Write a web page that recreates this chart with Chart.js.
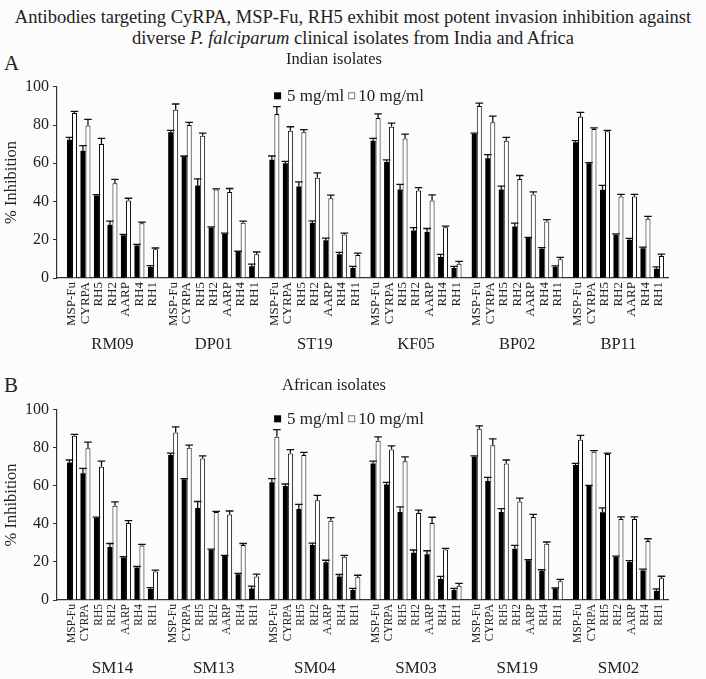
<!DOCTYPE html>
<html>
<head>
<meta charset="utf-8">
<script src="https://cdn.jsdelivr.net/npm/chart.js@4"></script>
<style>
  body { margin: 0; background: #fcfcfc; font-family: "Liberation Serif", serif; color: #222; }
  #page { position: relative; width: 706px; height: 679px; overflow: hidden; }
  .title { position: absolute; left: 0; width: 706px; text-align: center; font-size: 18.5px; line-height: 21px; }
  .panel-letter { position: absolute; left: 4px; font-size: 21px; }
  canvas { position: absolute; left: 0; }
</style>
</head>
<body>
<div id="page">
  <div class="title" style="top: 7px;">Antibodies targeting CyRPA, MSP-Fu, RH5 exhibit most potent invasion inhibition against<br>diverse <i>P. falciparum</i> clinical isolates from India and Africa</div>
  <div class="panel-letter" style="top: 51px;">A</div>
  <div class="panel-letter" style="top: 373px;">B</div>
  <canvas id="chartA" width="706" height="312" style="top: 50px;"></canvas>
  <canvas id="chartB" width="706" height="306" style="top: 373px;"></canvas>
</div>
<script>
const antigens = ["MSP-Fu", "CYRPA", "RH5", "RH2", "AARP", "RH4", "RH1"];
const indianIsolates = ["RM09", "DP01", "ST19", "KF05", "BP02", "BP11"];
const africanIsolates = ["SM14", "SM13", "SM04", "SM03", "SM19", "SM02"];

// % inhibition per isolate (rows) and antigen (columns)
const inhibition5 = [
  [72.3, 66.6, 43.1, 27.8, 22.3, 17.0, 5.8],
  [76.2, 63.5, 48.4, 26.4, 23.1, 13.6, 6.1],
  [61.9, 60.0, 47.8, 28.9, 19.8, 12.4, 5.2],
  [71.8, 60.7, 46.3, 24.9, 24.0, 11.0, 5.2],
  [75.3, 62.6, 46.3, 27.0, 20.9, 15.3, 5.8],
  [71.0, 60.0, 46.1, 22.6, 20.0, 15.5, 4.9],
];
const inhibition10 = [
  [86.3, 79.8, 70.1, 49.6, 40.5, 28.7, 15.0],
  [88.0, 80.0, 74.4, 46.3, 45.0, 28.9, 12.4],
  [85.8, 77.0, 76.2, 52.4, 41.7, 22.8, 12.0],
  [83.7, 79.1, 73.0, 45.7, 40.5, 26.6, 7.5],
  [90.0, 81.4, 71.8, 51.8, 43.7, 29.6, 9.8],
  [84.3, 77.9, 76.7, 42.6, 42.6, 31.0, 11.5],
];
const error5 = [
  [1.3, 2.6, 0.5, 1.9, 0.5, 0.6, 0.7],
  [1.0, 0.3, 3.4, 0.3, 0.4, 0.4, 1.2],
  [1.9, 1.0, 2.5, 1.0, 1.1, 1.0, 0.9],
  [1.2, 1.1, 2.7, 1.4, 1.9, 1.4, 0.9],
  [0.5, 1.9, 1.7, 1.7, 0.3, 0.6, 0.5],
  [0.8, 0.3, 2.3, 0.5, 0.7, 0.7, 0.9],
];
const error10 = [
  [0.8, 3.2, 2.9, 2.0, 1.2, 0.5, 0.7],
  [3.0, 1.4, 1.4, 0.3, 1.8, 0.8, 1.2],
  [3.8, 2.1, 1.4, 2.6, 1.6, 0.7, 1.0],
  [2.1, 1.9, 2.3, 1.6, 3.0, 0.5, 1.2],
  [1.5, 3.3, 1.8, 1.8, 1.3, 0.9, 1.0],
  [2.3, 0.6, 0.5, 1.1, 1.1, 1.2, 1.0],
];
const yTicks = [0, 20, 40, 60, 80, 100];

// position of an antigen on the x axis: half a slot of gap between isolates
const GROUP_STEP = 7.5;
const slot = (g, i) => g * GROUP_STEP + i;

const serif = "'Liberation Serif', serif";
const ink = "#222";

const errorBars = {
  id: "errorBars",
  afterDatasetsDraw(chart) {
    const ctx = chart.ctx;
    const yScale = chart.scales.y;
    ctx.save();
    ctx.strokeStyle = "#111";
    ctx.lineWidth = 1.3;
    chart.data.datasets.forEach((ds, d) => {
      const meta = chart.getDatasetMeta(d);
      meta.data.forEach((bar, k) => {
        const v = ds.data[k].y;
        const top = yScale.getPixelForValue(v + ds.errors[k]);
        ctx.beginPath();
        ctx.moveTo(bar.x, bar.y);
        ctx.lineTo(bar.x, top);
        ctx.moveTo(bar.x - 3.8, top);
        ctx.lineTo(bar.x + 3.8, top);
        ctx.stroke();
      });
    });
    ctx.restore();
  },
};

// one-line legend sitting just inside the top of the plot area
const inlineLegend = {
  id: "inlineLegend",
  afterDraw(chart) {
    const ctx = chart.ctx;
    const area = chart.chartArea;
    const box = 7;
    ctx.save();
    ctx.font = "17px " + serif;
    ctx.textBaseline = "middle";
    const items = chart.data.datasets.map((ds) => ({ ds, w: ctx.measureText(ds.label).width }));
    const gaps = [6, 4];
    let total = 0;
    items.forEach((it, k) => { total += box + gaps[0] + it.w + (k < items.length - 1 ? gaps[1] : 0); });
    let x = (area.left + area.right) / 2 - 12 - total / 2;
    const y = area.top + 9;
    items.forEach((it, k) => {
      ctx.fillStyle = it.ds.backgroundColor;
      ctx.fillRect(x, y - box / 2, box, box);
      if (k > 0) {
        ctx.strokeStyle = "#555";
        ctx.lineWidth = 0.8;
        ctx.strokeRect(x + 0.5, y - box / 2 + 0.5, box - 1, box - 1);
      }
      x += box + gaps[0] - (k > 0 ? 3 : 0);
      ctx.fillStyle = ink;
      ctx.fillText(it.ds.label, x, y + 1);
      x += it.w + gaps[1];
    });
    ctx.restore();
  },
};

function buildPanel(canvasId, title, isolates, opts) {
  const points = (rows) => {
    const out = [];
    rows.forEach((row, g) => row.forEach((v, i) => out.push({ x: slot(g, i), y: v })));
    return out;
  };
  const flat = (rows) => rows.flat();
  const tickPositions = [];
  const tickNames = {};
  isolates.forEach((iso, g) => antigens.forEach((a, i) => {
    tickPositions.push(slot(g, i));
    tickNames[slot(g, i)] = a;
  }));
  const groupPositions = isolates.map((iso, g) => slot(g, 3));
  const xMin = -1.11;
  const xMax = slot(isolates.length - 1, antigens.length - 1) + 0.67;

  return new Chart(document.getElementById(canvasId), {
    type: "bar",
    data: {
      datasets: [
        {
          label: "5 mg/ml",
          data: points(inhibition5),
          errors: flat(error5),
          backgroundColor: "#000",
          borderWidth: 0,
        },
        {
          label: "10 mg/ml",
          data: points(inhibition10),
          errors: flat(error10),
          backgroundColor: "#fff",
          borderColor: "#000",
          borderWidth: 1,
        },
      ],
    },
    options: {
      responsive: false,
      animation: false,
      categoryPercentage: 0.74,
      barPercentage: 1.0,
      layout: { padding: { left: 0, right: 38, top: 0, bottom: 0 } },
      plugins: {
        title: {
          display: true,
          text: title,
          color: ink,
          font: { family: serif, size: 16.5, weight: "normal" },
          padding: opts.titlePad,
        },
        legend: { display: false },
        tooltip: { enabled: false },
      },
      scales: {
        x: {
          type: "linear",
          min: xMin,
          max: xMax,
          weight: 0,
          offset: false,
          afterBuildTicks: (scale) => { scale.ticks = tickPositions.map((v) => ({ value: v })); },
          afterFit: (scale) => { scale.height = opts.xHeight; },
          grid: { drawOnChartArea: false, drawTicks: false, offset: false },
          border: { display: true, color: "#333", width: 1.2 },
          ticks: {
            autoSkip: false,
            minRotation: 90,
            maxRotation: 90,
            padding: 4,
            color: ink,
            font: { family: serif, size: opts.labelSize },
            callback: (value) => tickNames[value] || "",
          },
        },
        x2: {
          type: "linear",
          position: "bottom",
          min: xMin,
          max: xMax,
          weight: 1,
          offset: false,
          afterBuildTicks: (scale) => { scale.ticks = groupPositions.map((v) => ({ value: v })); },
          afterFit: (scale) => { scale.height = opts.groupHeight; },
          grid: { display: false, drawTicks: false, offset: false },
          border: { display: false },
          ticks: {
            autoSkip: false,
            maxRotation: 0,
            padding: opts.groupPad,
            color: ink,
            font: { family: serif, size: opts.groupSize },
            callback: (value) => isolates[groupPositions.indexOf(value)] || "",
          },
        },
        y: {
          min: 0,
          max: 100,
          afterBuildTicks: (scale) => { scale.ticks = yTicks.map((v) => ({ value: v })); },
          afterFit: (scale) => { scale.width = 57; },
          grid: { drawOnChartArea: false, drawTicks: true, tickLength: 4, color: "#333" },
          border: { display: true, color: "#333", width: 1.2 },
          title: {
            display: true,
            text: "% Inhibition",
            color: ink,
            font: { family: serif, size: 16.5 },
            padding: { top: 2, bottom: 0 },
          },
          ticks: {
            padding: 4,
            color: ink,
            font: { family: serif, size: 16 },
          },
        },
      },
    },
    plugins: [errorBars, inlineLegend],
  });
}

// the African panel repeats the values
buildPanel("chartA", "Indian isolates", indianIsolates, {
  titlePad: { top: 0, bottom: 17 },
  xHeight: 56,
  labelSize: 13,
  groupHeight: 28,
  groupPad: 1,
  groupSize: 16.5,
});
buildPanel("chartB", "African isolates", africanIsolates, {
  titlePad: { top: 3, bottom: 14 },
  xHeight: 55,
  labelSize: 11.5,
  groupHeight: 24,
  groupPad: 3,
  groupSize: 17,
});
</script>
</body>
</html>
